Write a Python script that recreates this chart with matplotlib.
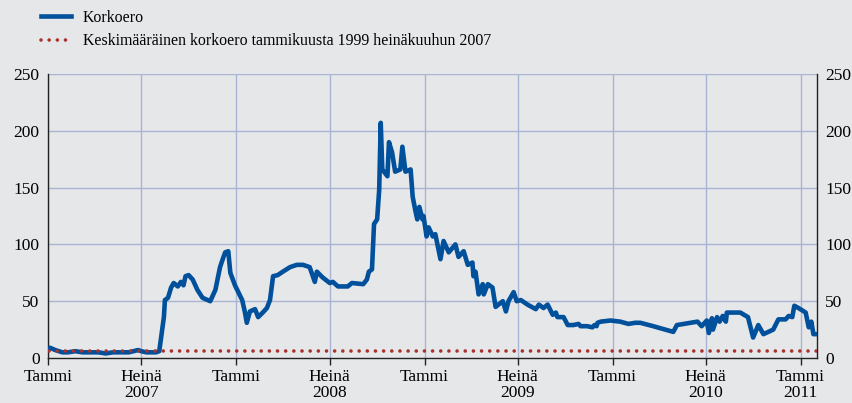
import matplotlib.pyplot as plt
import pandas as pd

# Korkoero, päivämäärät ja arvot luettu kuvasta
dates = [
    "2007-01-01", "2007-01-05", "2007-01-15", "2007-01-29", "2007-02-09", "2007-02-23",
    "2007-03-09", "2007-03-25", "2007-04-09", "2007-04-23", "2007-05-07", "2007-05-23",
    "2007-06-07", "2007-06-25", "2007-07-01", "2007-07-11", "2007-07-20", "2007-07-30",
    "2007-08-05", "2007-08-08", "2007-08-14", "2007-08-16", "2007-08-22", "2007-08-28",
    "2007-09-02", "2007-09-10", "2007-09-16", "2007-09-21", "2007-09-25", "2007-10-01",
    "2007-10-09", "2007-10-18", "2007-10-28", "2007-11-12", "2007-11-22", "2007-12-01",
    "2007-12-07", "2007-12-11", "2007-12-17", "2007-12-21", "2007-12-30",
    "2008-01-13", "2008-01-18", "2008-01-22", "2008-01-28", "2008-02-07", "2008-02-13",
    "2008-02-22", "2008-03-01", "2008-03-07", "2008-03-13", "2008-03-22", "2008-04-01",
    "2008-04-15", "2008-04-28", "2008-05-10", "2008-05-23", "2008-06-02", "2008-06-06",
    "2008-06-17", "2008-07-01", "2008-07-07", "2008-07-17", "2008-08-05", "2008-08-13",
    "2008-09-04", "2008-09-11", "2008-09-15", "2008-09-21", "2008-09-25", "2008-10-01",
    "2008-10-05", "2008-10-08", "2008-10-11", "2008-10-21", "2008-10-24", "2008-10-30",
    "2008-11-05", "2008-11-15", "2008-11-19", "2008-11-25", "2008-12-05", "2008-12-09",
    "2008-12-15", "2008-12-18", "2008-12-22", "2008-12-28", "2008-12-30",
    "2009-01-05", "2009-01-09", "2009-01-17", "2009-01-22", "2009-02-01", "2009-02-07",
    "2009-02-17", "2009-03-02", "2009-03-08", "2009-03-18", "2009-03-26", "2009-04-04",
    "2009-04-06", "2009-04-10", "2009-04-16", "2009-04-24", "2009-04-26", "2009-05-04",
    "2009-05-13", "2009-05-19", "2009-06-02", "2009-06-08", "2009-06-13", "2009-06-23",
    "2009-06-29", "2009-07-07", "2009-07-20", "2009-08-05", "2009-08-11", "2009-08-20",
    "2009-08-28", "2009-09-07", "2009-09-13", "2009-09-16", "2009-09-22", "2009-09-28",
    "2009-10-06", "2009-10-17", "2009-10-27", "2009-10-31", "2009-11-13", "2009-11-23",
    "2009-11-27", "2009-12-01", "2009-12-03", "2009-12-09", "2009-12-28",
    "2010-01-16", "2010-02-01", "2010-02-14", "2010-02-24", "2010-03-21", "2010-04-29",
    "2010-05-06", "2010-06-15", "2010-06-23", "2010-07-03", "2010-07-07", "2010-07-13",
    "2010-07-15", "2010-07-23", "2010-07-28", "2010-08-03", "2010-08-09", "2010-08-11",
    "2010-09-06", "2010-09-21", "2010-10-01", "2010-10-11", "2010-10-21", "2010-11-09",
    "2010-11-19", "2010-12-03", "2010-12-09", "2010-12-16", "2010-12-20", "2010-12-28",
    "2011-01-11", "2011-01-17", "2011-01-22", "2011-01-26", "2011-02-01",
]
korkoero = [
    8, 9, 7, 5, 5, 6,
    5, 5, 5, 4, 5, 5,
    5, 7, 6, 5, 5, 5,
    6, 16, 36, 51, 53, 62,
    66, 63, 67, 64, 72, 73,
    69, 60, 53, 50, 60, 80,
    88, 93, 94, 75, 64,
    51, 41, 31, 41, 43, 36,
    40, 44, 51, 72, 73, 76,
    80, 82, 82, 80, 67, 76,
    71, 66, 67, 63, 63, 66,
    65, 69, 76, 78, 118, 122,
    148, 207, 166, 160, 190, 181,
    164, 166, 186, 164, 166, 142,
    128, 122, 133, 122, 125,
    107, 115, 107, 109, 87, 103,
    93, 100, 89, 94, 82, 84,
    72, 76, 56, 65, 56, 65,
    62, 45, 50, 41, 50, 58,
    50, 51, 47, 43, 47, 44,
    47, 38, 40, 36, 36, 36,
    29, 29, 30, 28, 28, 27,
    29, 28, 31, 32, 33,
    32, 30, 31, 31, 28, 23,
    29, 32, 28, 33, 22, 35,
    25, 36, 32, 37, 32, 40,
    40, 36, 18, 29, 21, 25,
    34, 34, 37, 36, 46, 44,
    40, 27, 32, 21, 21,
]
keskiarvo = 6  # keskimääräinen korkoero 1/1999-7/2007

tick_dates = ["2007-01-01", "2007-07-01", "2008-01-01", "2008-07-01", "2009-01-01",
              "2009-07-01", "2010-01-01", "2010-07-01", "2011-01-01"]
tick_labels = ["Tammi", "Heinä\n2007", "Tammi", "Heinä\n2008", "Tammi",
               "Heinä\n2009", "Tammi", "Heinä\n2010", "Tammi\n2011"]
y_ticks = [0, 50, 100, 150, 200, 250]

bg = "#E6E7E9"
blue = "#00509B"
red = "#A8322D"
grid_col = "#A9B4D4"

plt.rcParams["font.family"] = ["Liberation Serif", "DejaVu Serif"]
plt.rcParams["font.size"] = 12.5

x = pd.to_datetime(dates)
x_start = pd.Timestamp("2007-01-01")
x_end = pd.Timestamp("2011-02-02")

fig = plt.figure(figsize=(8.53, 4.03), dpi=100, facecolor=bg)
ax = fig.add_axes([48 / 853, (403 - 358) / 403, 769 / 853, (358 - 74) / 403])
ax.set_facecolor(bg)

ax.plot(x, korkoero, color=blue, linewidth=3.3, solid_joinstyle="round",
        label="Korkoero", zorder=3)
ax.plot([pd.Timestamp("2007-01-02"), x_end], [keskiarvo, keskiarvo], color=red,
        linewidth=2.6, linestyle=(0, (0.01, 2.25)), dash_capstyle="round",
        label="Keskimääräinen korkoero tammikuusta 1999 heinäkuuhun 2007", zorder=4)

ax.set_xlim(x_start, x_end)
ax.set_ylim(0, 250)
ax.set_yticks(y_ticks)
ax.set_xticks(pd.to_datetime(tick_dates))
ax.set_xticklabels(tick_labels, linespacing=0.95)

ax.grid(True, color=grid_col, linewidth=1)
ax.yaxis.get_gridlines()[0].set_visible(False)
ax.set_axisbelow(True)

ax.tick_params(axis="y", length=0, labelleft=True, labelright=True, pad=6)
ax.tick_params(axis="x", direction="out", length=5, width=1, color="#222222", pad=3)

ax.spines["top"].set_visible(False)
for side in ["left", "right", "bottom"]:
    ax.spines[side].set_color("#222222")
    ax.spines[side].set_linewidth(1)

fig.legend(loc="upper left", bbox_to_anchor=(41 / 853, 1 - 10 / 403), frameon=False,
           borderpad=0, borderaxespad=0, handlelength=1.9, handletextpad=0.75,
           labelspacing=0.45, fontsize=11.4)

fig.savefig("out.png", dpi=100, facecolor=bg)
